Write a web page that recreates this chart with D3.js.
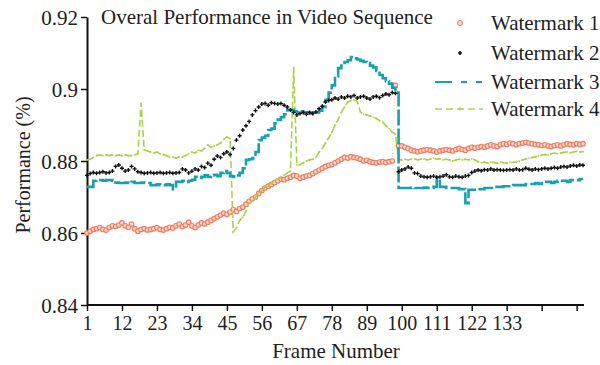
<!DOCTYPE html>
<html lang="en">
<head>
  <meta charset="UTF-8">
  <title>Overal Performance in Video Sequence</title>
  <style>
    body { margin: 0; background: #fff; }
    text { font-family: "Liberation Serif", "DejaVu Serif", serif; fill: #222; }
  </style>
</head>
<body>
<svg id="chart" width="600" height="365"></svg>

<script src="https://d3js.org/d3.v7.min.js"></script>
<script>
/* global d3 */

// frame numbers 1..157
var frames = d3.range(1, 158);

var xTicks = [1, 12, 23, 34, 45, 56, 67, 78, 89, 100, 111, 122, 133, 144, 155];
var xTickLabels = ["1", "12", "23", "34", "45", "56", "67", "78", "89", "100", "111", "122", "133", "", ""];
var yTicks = [0.84, 0.86, 0.88, 0.9, 0.92];
var yTickLabels = ["0.84", "0.86", "0.88", "0.9", "0.92"];

var names = ["Watermark 1", "Watermark 2", "Watermark 3", "Watermark 4"];

var wm1 = [
  0.860, 0.8605, 0.861, 0.8612, 0.8615, 0.861, 0.8608, 0.8615, 0.862, 0.8618,
  0.8622, 0.8628, 0.862, 0.8616, 0.8625, 0.8612, 0.8605, 0.861, 0.8612, 0.8608,
  0.861, 0.8612, 0.8615, 0.861, 0.8608, 0.8612, 0.8616, 0.8614, 0.862, 0.8625,
  0.8618, 0.8622, 0.863, 0.862, 0.8615, 0.8622, 0.8628, 0.8625, 0.863, 0.8635,
  0.864, 0.8645, 0.865, 0.8655, 0.8652, 0.8658, 0.8665, 0.866, 0.8668, 0.8672,
  0.868, 0.8688, 0.8695, 0.870, 0.871, 0.8718, 0.8725, 0.873, 0.8735, 0.874,
  0.8745, 0.875, 0.8748, 0.8752, 0.8755, 0.876, 0.8758, 0.8752, 0.8755, 0.8758,
  0.876, 0.8765, 0.877, 0.8775, 0.878, 0.8785, 0.8788, 0.879, 0.8795, 0.880,
  0.8805, 0.881, 0.8808, 0.8812, 0.881, 0.8808, 0.8805, 0.880, 0.8802, 0.8798,
  0.8796, 0.8795, 0.8797, 0.8798, 0.8796, 0.8798, 0.880, 0.901,
  0.8844, 0.8842, 0.8838, 0.8835, 0.883, 0.8828, 0.8826, 0.8828, 0.883, 0.8832,
  0.883, 0.8828, 0.8825, 0.8828, 0.883, 0.8832, 0.883, 0.8828, 0.8832, 0.8835,
  0.8832, 0.883, 0.8835, 0.8838, 0.8836, 0.8838, 0.884, 0.8838, 0.8842, 0.8845,
  0.8842, 0.884, 0.8845, 0.8848, 0.8846, 0.885, 0.8848, 0.8845, 0.8848, 0.885,
  0.8852, 0.885, 0.8848, 0.8846, 0.8845, 0.8843, 0.8845, 0.8842, 0.884, 0.8843,
  0.8845, 0.8842, 0.8845, 0.8848, 0.8846, 0.8845, 0.8848, 0.8846, 0.8848
];

var wm2 = [
  0.876, 0.8765, 0.8768, 0.8766, 0.8768, 0.877, 0.8767, 0.8768, 0.8772, 0.8785,
  0.8789, 0.878, 0.8772, 0.8775, 0.8785, 0.8778, 0.877, 0.8768, 0.8766, 0.8767,
  0.8768, 0.8766, 0.8767, 0.8768, 0.8766, 0.8767, 0.8768, 0.8766, 0.8767, 0.8768,
  0.8778, 0.8775, 0.8767, 0.8772, 0.8778, 0.8775, 0.8785, 0.8782, 0.8794, 0.8788,
  0.8805, 0.8814, 0.881, 0.882, 0.8825, 0.8818, 0.8835, 0.8858, 0.887, 0.8886,
  0.8898, 0.891, 0.8928, 0.894, 0.895, 0.8958, 0.896, 0.8955, 0.8962, 0.896,
  0.8958, 0.896, 0.8955, 0.895, 0.8942, 0.8935, 0.8928, 0.8932, 0.8935, 0.893,
  0.8935, 0.8932, 0.8936, 0.8945, 0.8952, 0.8964, 0.8968, 0.897, 0.8975, 0.8972,
  0.8978, 0.8975, 0.898, 0.8978, 0.8982, 0.8975, 0.8978, 0.898, 0.8975, 0.8972,
  0.8978, 0.898, 0.8976, 0.8982, 0.8986, 0.8984, 0.899, 0.8988,
  0.877, 0.8775, 0.8778, 0.8783, 0.878, 0.8767, 0.8765, 0.8758, 0.8756, 0.8755,
  0.8756, 0.8758, 0.8755, 0.8756, 0.8758, 0.8762, 0.8756, 0.8755, 0.8758, 0.8756,
  0.8755, 0.8758, 0.876, 0.8768, 0.8772, 0.8775, 0.8773, 0.8776, 0.8775, 0.8778,
  0.8775, 0.8776, 0.8775, 0.8774, 0.8775, 0.8776, 0.8775, 0.8778, 0.8775, 0.8776,
  0.878, 0.8777, 0.8775, 0.8778, 0.8776, 0.8778, 0.878, 0.8778, 0.878, 0.8782,
  0.878, 0.8783, 0.8785, 0.8783, 0.8786, 0.8788, 0.8786, 0.8789, 0.8788
];

var wm3 = [
  0.8728, 0.8728, 0.8745, 0.8747, 0.8747, 0.8745, 0.8747, 0.8747, 0.8745, 0.874,
  0.8739, 0.8739, 0.874, 0.8739, 0.8742, 0.8739, 0.8739, 0.874, 0.8739, 0.8739,
  0.8733, 0.8733, 0.8735, 0.8733, 0.8733, 0.8735, 0.8733, 0.8722, 0.8742, 0.8742,
  0.8745, 0.8742, 0.8745, 0.8748, 0.8756, 0.8753, 0.8756, 0.876, 0.8756, 0.876,
  0.8762, 0.8758, 0.8767, 0.8772, 0.8767, 0.8758, 0.8756, 0.876, 0.8767, 0.878,
  0.8803, 0.8805, 0.8808, 0.8825, 0.8858, 0.8865, 0.887, 0.8886, 0.889, 0.8905,
  0.8915, 0.8922, 0.893, 0.8942, 0.8942, 0.8938, 0.8935, 0.8938, 0.8935, 0.8935,
  0.8932, 0.8935, 0.8935, 0.894, 0.895, 0.897, 0.899, 0.901, 0.9035, 0.9058,
  0.9065, 0.9075, 0.908, 0.9089, 0.9085, 0.9082, 0.9078, 0.9075, 0.9072, 0.9065,
  0.906, 0.905, 0.9039, 0.903, 0.9022, 0.9015, 0.9003, 0.899,
  0.8725, 0.8725, 0.8725, 0.8725, 0.8726, 0.8725, 0.8725, 0.8725, 0.8726, 0.8725,
  0.8725, 0.8728, 0.8753, 0.8728, 0.8728, 0.8725, 0.8725, 0.8725, 0.8725, 0.8722,
  0.8722, 0.8683, 0.872, 0.872, 0.872, 0.8722, 0.8722, 0.8725, 0.8725, 0.8725,
  0.8728, 0.8728, 0.8728, 0.873, 0.873, 0.873, 0.8733, 0.8733, 0.8733, 0.8733,
  0.8736, 0.8736, 0.8736, 0.8739, 0.8736, 0.8739, 0.8742, 0.8742, 0.8739, 0.8742,
  0.8745, 0.8745, 0.8745, 0.8742, 0.8747, 0.8747, 0.8747, 0.875, 0.875
];

var wm4 = [
  0.8803, 0.8805, 0.881, 0.8815, 0.8817, 0.8815, 0.8817, 0.8815, 0.8817, 0.8815,
  0.8817, 0.8815, 0.8817, 0.8815, 0.8815, 0.8817, 0.882, 0.896, 0.8831, 0.8828,
  0.8825, 0.8822, 0.8825, 0.882, 0.8818, 0.8815, 0.8811, 0.8811, 0.8808, 0.8812,
  0.8811, 0.8815, 0.882, 0.8825, 0.8822, 0.883, 0.8828, 0.8835, 0.8844, 0.8838,
  0.8842, 0.8845, 0.885, 0.886, 0.8867, 0.8862, 0.8603, 0.8615, 0.8635, 0.8644,
  0.866, 0.8683, 0.869, 0.870, 0.8711, 0.8718, 0.8728, 0.873, 0.8738, 0.8745,
  0.875, 0.8753, 0.876, 0.8767, 0.8772, 0.906, 0.8789, 0.879, 0.8795, 0.880,
  0.8803, 0.8805, 0.881, 0.8825, 0.8835, 0.885, 0.8864, 0.888, 0.890, 0.8915,
  0.8936, 0.895, 0.8964, 0.8968, 0.897, 0.8965, 0.8936, 0.893, 0.8928, 0.8925,
  0.8922, 0.8918, 0.8912, 0.8908, 0.8898, 0.889, 0.888, 0.8875,
  0.8803, 0.8803, 0.8805, 0.8803, 0.8805, 0.8806, 0.8803, 0.8805, 0.8806, 0.8803,
  0.8805, 0.8808, 0.8805, 0.8806, 0.8803, 0.8805, 0.8803, 0.880, 0.8803, 0.8805,
  0.8803, 0.8805, 0.8803, 0.8806, 0.8803, 0.8798, 0.8795, 0.8797, 0.8794, 0.8797,
  0.8796, 0.8794, 0.8797, 0.8795, 0.8794, 0.8797, 0.8796, 0.8798, 0.880, 0.8803,
  0.8806, 0.8808, 0.881, 0.8812, 0.8814, 0.8816, 0.8818, 0.8817, 0.882, 0.8822,
  0.882, 0.8822, 0.8824, 0.8825, 0.8823, 0.8825, 0.8827, 0.8825, 0.8826
];

var red = "#f47a5e", teal = "#16a2ac", lime = "#a9d34a";

var svg = d3.select("#chart");

var x = d3.scaleLinear().domain([1, 157]).range([87, 583]);
var y = d3.scaleLinear().domain([0.84, 0.92]).range([305, 17]);

function pts(vals) {
  return frames.map(function (f, i) { return [x(f), y(vals[i])]; });
}

// axes
var yAxis = d3.axisLeft(y)
  .tickValues(yTicks)
  .tickFormat(function (d, i) { return yTickLabels[i]; })
  .tickSize(6).tickSizeOuter(0);
var gy = svg.append("g").attr("transform", "translate(87,0)").call(yAxis);
gy.select(".domain").attr("stroke", "#111").attr("stroke-width", 2);
gy.selectAll(".tick line").attr("stroke", "#111").attr("stroke-width", 1.5);
gy.selectAll(".tick text").attr("x", -9).attr("dy", "0.36em")
  .style("font-size", "21px").style("font-family", "Liberation Serif");

var xAxis = d3.axisBottom(x)
  .tickValues(xTicks)
  .tickFormat(function (d, i) { return xTickLabels[i]; })
  .tickSize(6).tickSizeOuter(0);
var gx = svg.append("g").attr("transform", "translate(0,305)").call(xAxis);
gx.select(".domain").attr("stroke", "#111").attr("stroke-width", 2)
  .attr("d", "M87,0H584");
gx.selectAll(".tick line").attr("stroke", "#111").attr("stroke-width", 1.5);
gx.selectAll(".tick text").attr("y", 11)
  .style("font-size", "20px").style("font-family", "Liberation Serif");

// Watermark 1: faint trail + circles
var line = d3.line();
svg.append("path").attr("d", line(pts(wm1)))
  .attr("fill", "none").attr("stroke", "#fbd3c8").attr("stroke-width", 1).attr("stroke-dasharray", "1,2");
svg.append("g").selectAll("circle").data(pts(wm1)).join("circle")
  .attr("cx", function (d) { return d[0]; })
  .attr("cy", function (d) { return d[1]; })
  .attr("r", 2.3)
  .attr("fill", "#fcd8cd").attr("stroke", red).attr("stroke-width", 1.1);

// Watermark 4: dashed line with small markers
svg.append("path").attr("d", line(pts(wm4)))
  .attr("fill", "none").attr("stroke", lime).attr("stroke-width", 1.6)
  .attr("stroke-dasharray", "7,3");
svg.append("g").selectAll("circle").data(pts(wm4)).join("circle")
  .attr("cx", function (d) { return d[0]; })
  .attr("cy", function (d) { return d[1]; })
  .attr("r", 0.9).attr("fill", lime);

// Watermark 3: thick step line
svg.append("path").attr("d", d3.line().curve(d3.curveStepAfter)(pts(wm3)))
  .attr("fill", "none").attr("stroke", teal).attr("stroke-width", 2.6)
  .attr("stroke-dasharray", "16,3");

// Watermark 2: black plus markers
svg.append("g").selectAll("path").data(pts(wm2)).join("path")
  .attr("d", function (d) {
    return "M" + (d[0] - 2) + "," + d[1] + "h4M" + d[0] + "," + (d[1] - 2) + "v4";
  })
  .attr("stroke", "#111").attr("stroke-width", 1.4);

// title and axis labels
svg.append("text").attr("x", 101).attr("y", 24)
  .style("font-size", "21px").text("Overal Performance in Video Sequence");
svg.append("text").attr("x", 336).attr("y", 358).attr("text-anchor", "middle")
  .style("font-size", "21px").text("Frame Number");
svg.append("text").attr("transform", "translate(30,165) rotate(-90)")
  .attr("text-anchor", "middle").style("font-size", "20px").text("Performance (%)");

// legend
var legY = [23, 53, 82, 109];
var leg = svg.append("g");
names.forEach(function (n, i) {
  leg.append("text").attr("x", 491).attr("y", legY[i]).attr("dy", "0.35em")
    .style("font-size", "21px").text(n);
});
leg.append("circle").attr("cx", 460).attr("cy", legY[0]).attr("r", 2.5)
  .attr("fill", "#fcd8cd").attr("stroke", red);
leg.append("path").attr("d", "M458," + legY[1] + "h4M460," + (legY[1] - 2) + "v4")
  .attr("stroke", "#111").attr("stroke-width", 1.6);
leg.append("path").attr("d", "M435," + legY[2] + "H483")
  .attr("stroke", teal).attr("stroke-width", 2.2).attr("stroke-dasharray", "17,9,6,9,6");
leg.append("path").attr("d", "M435," + legY[3] + "H483")
  .attr("stroke", lime).attr("stroke-width", 1.6).attr("stroke-dasharray", "7,4");
leg.append("circle").attr("cx", 460).attr("cy", legY[3]).attr("r", 1.5).attr("fill", lime);
</script>
</body>
</html>
